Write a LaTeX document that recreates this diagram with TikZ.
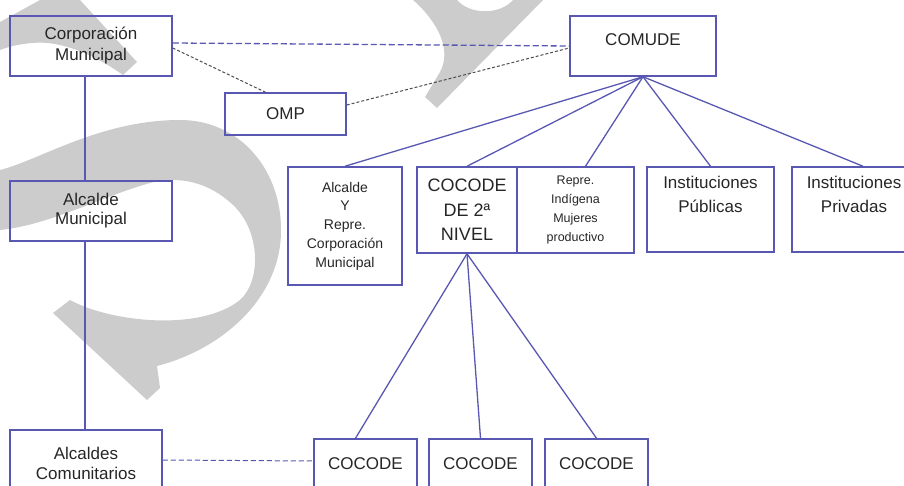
\documentclass[tikz,border=0pt]{standalone}
\usepackage{fontspec}
\setmainfont{Liberation Sans}
\usepackage{tikz}
\usetikzlibrary{positioning}
\definecolor{orgblue}{RGB}{88,88,178}
\tikzset{
org box/.style = {rectangle, draw = orgblue, line width = 1.5pt, inner sep = 0pt, align = center, text = black!85, font = \fontsize{17}{21}\selectfont},
org link/.style = {draw = orgblue, line width = 1.3pt},
org dashed/.style = {draw = orgblue, line width = 1.3pt, dash pattern = on 6pt off 3pt},
omp link/.style = {draw = black!70, line width = 1pt, dash pattern = on 3pt off 2pt},
watermark/.style = {fill = gray!40, draw = none},
}

\begin{document}
\begin{tikzpicture}[x = 1pt, y = -1pt]
    \useasboundingbox (0, 0) rectangle (904, 486);
    % watermark behind the chart
    \path[watermark] (0, 22) -- (40, 0) -- (80, 0) -- (137, 62) -- (123, 75) .. controls (95, 55) and (60, 40) .. (33, 43) .. controls (18, 44) and (8, 47) .. (0, 50) -- cycle;
    \path[watermark] (0, 170) .. controls (40, 160) and (100, 120) .. (180, 120) .. controls (240, 120) and (282, 170) .. (281, 232) .. controls (280, 300) and (220, 350) .. (157, 366) -- (160, 388) -- (147, 400) -- (53, 313) -- (70, 300) .. controls (110, 322) and (200, 332) .. (240, 300) .. controls (262, 280) and (260, 230) .. (233, 205) .. controls (210, 183) and (180, 175) .. (150, 183) .. controls (100, 197) and (50, 225) .. (0, 230) -- cycle;
    \path[watermark] (413, 0) .. controls (438, 22) and (452, 50) .. (440, 72) -- (425, 97) -- (437, 108) -- (543, 0) -- (513, 0) .. controls (500, 15) and (470, 15) .. (457, 0) -- cycle;
    % boxes
    \node[org box, minimum width = 162pt, minimum height = 60pt] (corp) at (91, 46) {Corporación\\Municipal};
    \node[org box, minimum width = 121pt, minimum height = 42pt] (omp) at (285.5, 114) {OMP};
    \node[org box, minimum width = 146pt, minimum height = 60pt, text depth = 12pt] (comude) at (643, 46) {COMUDE};
    \node[org box, minimum width = 162pt, minimum height = 60pt, font = \fontsize{17}{19}\selectfont] (alcalde) at (91, 211) {Alcalde\\Municipal};
    \node[org box, minimum width = 114pt, minimum height = 118pt, font = \fontsize{14}{18.7}\selectfont] (alcy) at (345, 226) {Alcalde\\Y\\Repre.\\Corporación\\Municipal};
    \node[org box, minimum width = 100pt, minimum height = 86pt, font = \fontsize{18}{24.5}\selectfont] (coc2) at (467, 210) {COCODE\\DE 2ª\\NIVEL};
    \node[org box, minimum width = 117pt, minimum height = 86pt, font = \fontsize{12.5}{18.7}\selectfont] (repre) at (575.5, 210) {Repre.\\Indígena\\Mujeres\\productivo};
    \node[org box, minimum width = 127pt, minimum height = 85pt, font = \fontsize{17}{24}\selectfont] (pub) at (710.5, 209.5) {Instituciones\\Públicas\\\strut};
    \node[org box, minimum width = 124pt, minimum height = 85pt, font = \fontsize{17}{24}\selectfont] (priv) at (854, 209.5) {Instituciones\\Privadas\\\strut};
    \node[org box, minimum width = 152pt, minimum height = 66pt, font = \fontsize{17}{20}\selectfont] (alcom) at (86, 463) {Alcaldes\\Comunitarios};
    \node[org box, minimum width = 103pt, minimum height = 50pt] (c1) at (365.5, 464) {COCODE};
    \node[org box, minimum width = 103pt, minimum height = 50pt] (c2) at (480.5, 464) {COCODE};
    \node[org box, minimum width = 103pt, minimum height = 50pt] (c3) at (596.5, 464) {COCODE};
    % links
    \path[org link] ([xshift = -6pt]corp.south) -- ([xshift = -6pt]alcalde.north);
    \path[org link] ([xshift = -6pt]alcalde.south) -- ([xshift = -1pt]alcom.north);
    \path[org dashed] ([yshift = 3pt]corp.east) -- (comude.west);
    \path[omp link] ([yshift = -2pt]corp.east) -- ([xshift = -20pt]omp.north);
    \path[omp link] ([yshift = 9pt]omp.east) -- ([yshift = -2pt]comude.west);
    \path[org link] (comude.south) -- (alcy.north);
    \path[org link] (comude.south) -- (coc2.north);
    \path[org link] (comude.south) -- ([xshift = 10pt]repre.north);
    \path[org link] (comude.south) -- (pub.north);
    \path[org link] (comude.south) -- ([xshift = 9pt]priv.north);
    \path[org link] (coc2.south) -- ([xshift = -10pt]c1.north);
    \path[org link] (coc2.south) -- (c2.north);
    \path[org link] (coc2.south) -- (c3.north);
    \path[org dashed, line width = 1pt, dash pattern = on 5pt off 3pt] ([yshift = 3pt]alcom.east) -- ([yshift = 3pt]c1.west);
\end{tikzpicture}
\end{document}
